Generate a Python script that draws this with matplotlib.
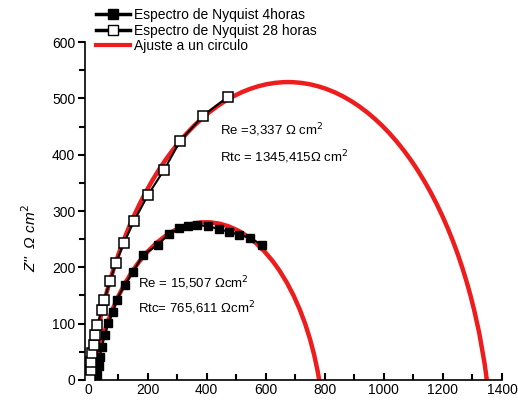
import matplotlib.pyplot as plt
import numpy as np
from matplotlib.patches import Arc
from matplotlib.lines import Line2D
from matplotlib.ticker import MultipleLocator

plt.rcParams['font.family'] = ['Liberation Sans', 'DejaVu Sans']

# Espectro 4 horas (cuadros llenos)
x4 = [28, 34, 39, 45, 56, 67, 84, 95, 123, 151, 185, 235, 274, 308, 336, 369,
      403, 442, 475, 509, 548, 587]
y4 = [9, 24, 41, 59, 80, 101, 121, 142, 169, 192, 222, 240, 260, 269, 273, 275,
      273, 268, 263, 258, 252, 240]

# Espectro 28 horas (cuadros vacios)
x28 = [6, 8, 9, 11, 17, 22, 30, 45, 53, 73, 92, 120, 154, 202, 256, 311, 388, 472]
y28 = [5, 18, 32, 47, 62, 80, 98, 124, 142, 175, 207, 243, 282, 329, 373, 425, 469, 503]

# Ajuste a un circulo: Re, Rtc y altura maxima del arco
re_4, rtc_4, peak_4 = 15.507, 765.611, 280
re_28, rtc_28, peak_28 = 3.337, 1345.415, 529

fig = plt.figure(figsize=(5.18, 4.05), dpi=100)
ax = fig.add_axes([0.164, 0.062, 0.805, 0.834])


def fit_arc(re, rtc, peak):
    h = rtc / 2
    d = (h ** 2 - peak ** 2) / (2 * peak)
    r = d + peak
    t1 = np.degrees(np.arcsin(d / r))
    return Arc((re + h, -d), 2 * r, 2 * r, theta1=t1, theta2=180 - t1,
               color='#ee1c1c', lw=3.2, zorder=1)


ax.add_patch(fit_arc(re_4, rtc_4, peak_4))
ax.add_patch(fit_arc(re_28, rtc_28, peak_28))

ax.plot(x4, y4, '-s', color='black', lw=1.5, ms=6, mfc='black', zorder=3)
ax.plot(x28, y28, '-s', color='black', lw=1.5, ms=7, mfc='white', mew=1.1, zorder=3)

ax.set_xlim(-12, 1400)
ax.set_ylim(0, 600)
ax.xaxis.set_major_locator(MultipleLocator(200))
ax.xaxis.set_minor_locator(MultipleLocator(100))
ax.yaxis.set_major_locator(MultipleLocator(100))
ax.yaxis.set_minor_locator(MultipleLocator(50))
ax.spines['top'].set_visible(False)
ax.spines['right'].set_visible(False)
for s in ['left', 'bottom']:
    ax.spines[s].set_linewidth(1.2)
ax.tick_params(axis='x', which='both', direction='in', labelsize=10, pad=2)
ax.tick_params(axis='y', which='both', direction='out', labelsize=10, pad=2)
ax.tick_params(which='major', length=5, width=1.5)
ax.tick_params(which='minor', length=4, width=1.5)

ax.set_ylabel("Z''  Ω cm$^2$", fontsize=11, style='italic')
ax.yaxis.set_label_coords(-0.11, 0.42)

ax.text(446, 444, 'Re =3,337 Ω cm$^2$', fontsize=9.5, va='center')
ax.text(446, 396, 'Rtc = 1345,415Ω cm$^2$', fontsize=9.5, va='center')
ax.text(168, 172, 'Re = 15,507 Ωcm$^2$', fontsize=9.5, va='center')
ax.text(168, 128, 'Rtc= 765,611 Ωcm$^2$', fontsize=9.5, va='center')

handles = [
    Line2D([], [], color='black', lw=2.5, marker='s', ms=7, mfc='black'),
    Line2D([], [], color='black', lw=2.5, marker='s', ms=7, mfc='white'),
    Line2D([], [], color='#ee1c1c', lw=3),
]
labels = ['Espectro de Nyquist 4horas', 'Espectro de Nyquist 28 horas',
          'Ajuste a un circulo']
fig.legend(handles, labels, loc='upper left', bbox_to_anchor=(0.17, 1.0),
           frameon=False, fontsize=10, handlelength=2.4, handletextpad=0.3,
           labelspacing=0.1, borderaxespad=0.2)

fig.savefig('out.png', dpi=100)
